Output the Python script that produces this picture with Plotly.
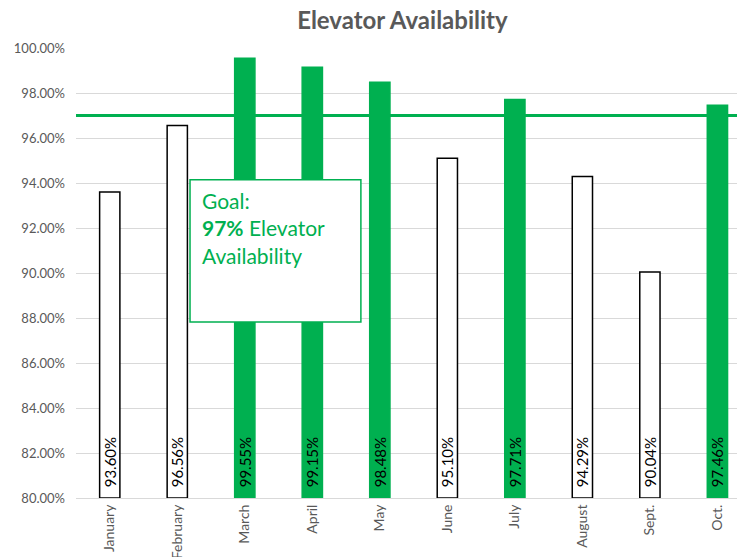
import plotly.graph_objects as go

months = ["January", "February", "March", "April", "May", "June",
          "July", "August", "Sept.", "Oct."]
availability = [93.60, 96.56, 99.55, 99.15, 98.48, 95.10, 97.71, 94.29, 90.04, 97.46]
goal = 97.0
y_ticks = [80, 82, 84, 86, 88, 90, 92, 94, 96, 98, 100]

GREEN = "#00B050"
GRAY_TEXT = "#595959"
FONT = "Lato, Open Sans, sans-serif"

fill_colors = [GREEN if v >= goal else "white" for v in availability]
line_colors = [GREEN if v >= goal else "black" for v in availability]
# a little lead-in space keeps the value clear of the axis
labels = ["\u00a0\u00a0" + f"{v:.2f}%" for v in availability]

fig = go.Figure()
fig.add_trace(go.Bar(
    x=list(range(len(months))),
    y=[v - 80 for v in availability],
    base=80,
    width=0.3,
    marker=dict(color=fill_colors, line=dict(color=line_colors, width=1.5)),
    text=labels,
    textposition="inside",
    insidetextanchor="start",
    textangle=-90,
    textfont=dict(color="black", size=15, family=FONT),
    constraintext="none",
    hoverinfo="skip",
))

# goal line across the plot
fig.add_shape(type="line", xref="paper", yref="y", x0=0, x1=1, y0=goal, y1=goal,
              line=dict(color=GREEN, width=3), layer="above")

# goal callout box
fig.add_shape(type="rect", xref="paper", yref="paper",
              x0=0.1725, x1=0.431, y0=0.391, y1=0.707,
              fillcolor="white", line=dict(color=GREEN, width=1.5), layer="above")
fig.add_annotation(xref="paper", yref="paper", x=0.188, y=0.693,
                   xanchor="left", yanchor="top", align="left", showarrow=False,
                   text="Goal:<br><b>97%</b> Elevator<br>Availability",
                   font=dict(color=GREEN, size=21, family=FONT))

fig.update_layout(
    width=737, height=557,
    margin=dict(l=76, r=0, t=48, b=59),
    paper_bgcolor="white", plot_bgcolor="white",
    showlegend=False,
    title=dict(text="<b>Elevator Availability</b>", x=0.546, xanchor="center",
               y=0.963, yanchor="middle",
               font=dict(size=24, color=GRAY_TEXT, family=FONT)),
    xaxis=dict(
        range=[-0.5, 9.29], automargin=False,
        tickmode="array", tickvals=list(range(len(months))), ticktext=months,
        tickangle=-90, tickfont=dict(size=14, color=GRAY_TEXT, family=FONT),
        showgrid=False, showline=True, linecolor="#D9D9D9", linewidth=1,
        ticks="", zeroline=False,
    ),
    yaxis=dict(
        range=[80, 100], automargin=False,
        tickmode="array", tickvals=y_ticks,
        ticktext=[f"{t:.2f}%" for t in y_ticks],
        tickfont=dict(size=13, color=GRAY_TEXT, family=FONT),
        ticklabelstandoff=10,
        showgrid=True, gridcolor="#D9D9D9", gridwidth=1,
        zeroline=False, ticks="", ticklen=0,
    ),
)

fig.write_html("out.html")
